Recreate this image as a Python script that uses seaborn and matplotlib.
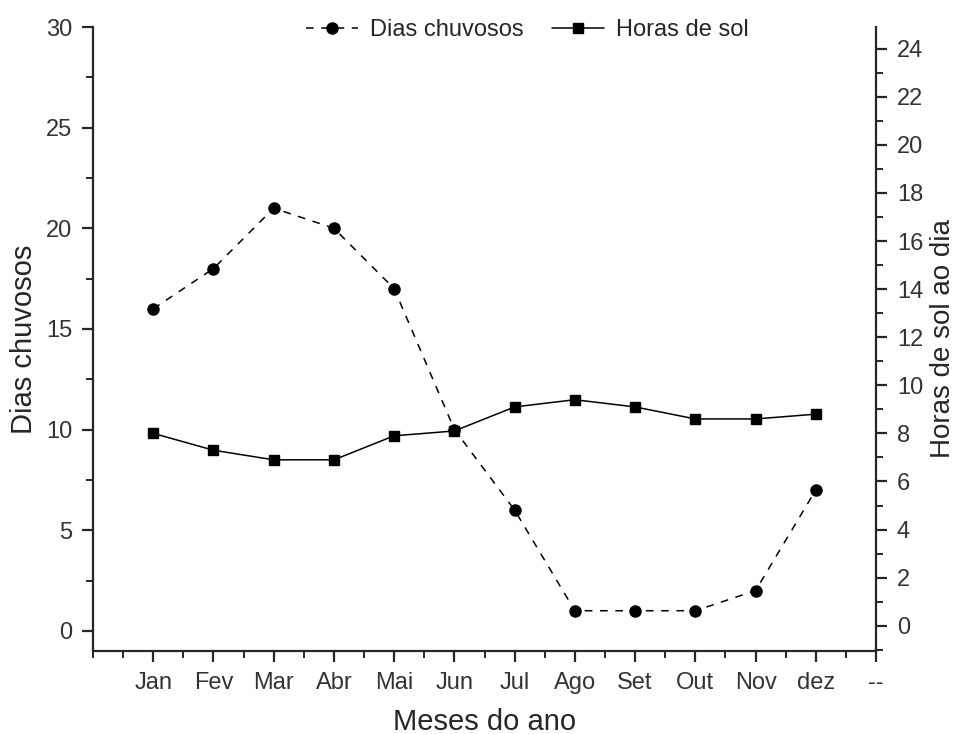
import matplotlib
matplotlib.use("Agg")
import matplotlib.pyplot as plt
from matplotlib.ticker import MultipleLocator
import pandas as pd
import seaborn as sns

# monthly data
months = ["Jan", "Fev", "Mar", "Abr", "Mai", "Jun", "Jul", "Ago", "Set", "Out", "Nov", "dez"]
dias_chuvosos = [16, 18, 21, 20, 17, 10, 6, 1, 1, 1, 2, 7]
horas_sol = [8.0, 7.3, 6.9, 6.9, 7.9, 8.1, 9.1, 9.4, 9.1, 8.6, 8.6, 8.8]
tick_labels = months + ["--"]

df = pd.DataFrame({"pos": range(len(months)), "mes": months,
                   "dias": dias_chuvosos, "horas": horas_sol})

sns.set_style("ticks")
plt.rcParams["font.family"] = ["Liberation Sans", "DejaVu Sans"]
plt.rcParams["axes.linewidth"] = 1.6

fig = plt.figure(figsize=(9.57, 7.34), dpi=100)
ax = fig.add_axes([0.0972, 0.1131, 0.8182, 0.8501])
ax2 = ax.twinx()

sns.lineplot(data=df, x="pos", y="dias", ax=ax, color="black", marker="o",
             markersize=8, markeredgecolor="black", markeredgewidth=1,
             linewidth=1.1, dashes=False, label="Dias chuvosos")
ax.lines[0].set_linestyle((0, (5, 5)))
sns.lineplot(data=df, x="pos", y="horas", ax=ax2, color="black", marker="s",
             markersize=6.5, markeredgecolor="black", markeredgewidth=1,
             linewidth=1.1, label="Horas de sol")

ax.set_xlim(-1, 12)
ax.set_xticks(range(len(tick_labels)))
ax.set_xticklabels(tick_labels)
ax.xaxis.set_minor_locator(MultipleLocator(0.5))
ax.set_ylim(-1, 30)
ax.yaxis.set_major_locator(MultipleLocator(5))
ax.yaxis.set_minor_locator(MultipleLocator(2.5))
ax2.set_ylim(-1.05, 24.9)
ax2.yaxis.set_major_locator(MultipleLocator(2))
ax2.yaxis.set_minor_locator(MultipleLocator(1))

ax.set_xlabel("Meses do ano", fontsize=21, labelpad=10)
ax.set_ylabel("Dias chuvosos", fontsize=21, labelpad=6)
ax2.set_ylabel("Horas de sol ao dia", fontsize=20, labelpad=5)

for a in (ax, ax2):
    a.tick_params(which="major", length=8, width=1.6, labelsize=17,
                  labelcolor="#333333", pad=7)
    a.tick_params(which="minor", length=5, width=1.4)
    a.spines["top"].set_visible(False)
ax.spines["right"].set_visible(False)
ax2.spines["left"].set_visible(False)
ax2.spines["bottom"].set_visible(False)

h1, l1 = ax.get_legend_handles_labels()
h2, l2 = ax2.get_legend_handles_labels()
ax.get_legend().remove()
ax2.get_legend().remove()
ax2.legend(h1 + h2, l1 + l2, loc="center", bbox_to_anchor=(0.555, 0.995), ncol=2,
           frameon=False, fontsize=17, handlelength=2.2, handletextpad=0.5,
           columnspacing=1.2, borderaxespad=0)

fig.savefig("out.png", dpi=100)
